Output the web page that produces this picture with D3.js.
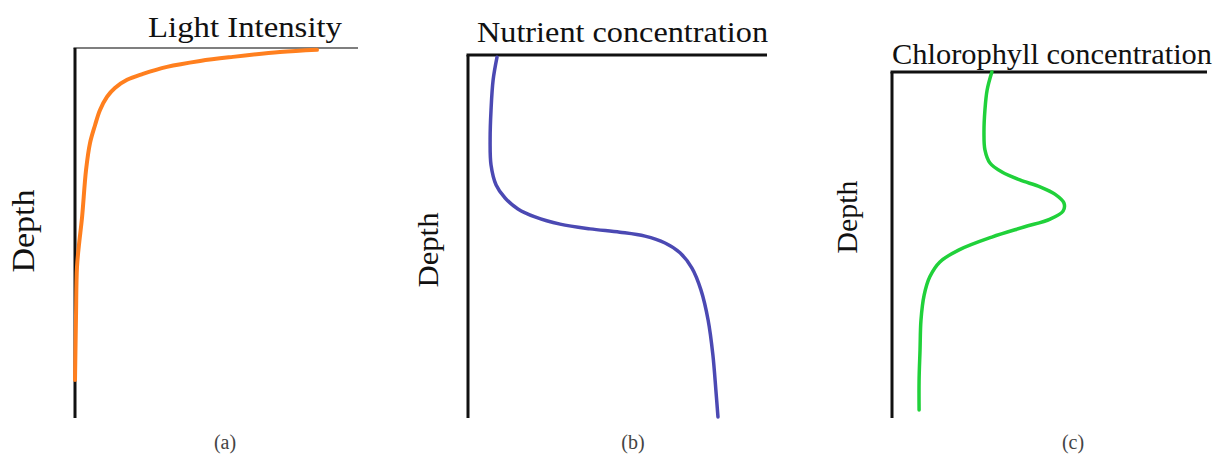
<!DOCTYPE html>
<html>
<head>
<meta charset="utf-8">
<script src="https://cdn.jsdelivr.net/npm/d3@7"></script>
<style>
  html, body { margin: 0; padding: 0; background: #fff; }
  svg { display: block; }
  text { font-family: "Liberation Serif", "Times New Roman", Times, serif; fill: #111; }
</style>
</head>
<body>
<svg id="chart" width="1214" height="455"></svg>
<script>
// ---------- data (value 0-100 along top axis, depth 0-100 down the vertical axis) ----------
const titles = ["Light Intensity", "Nutrient concentration", "Chlorophyll concentration"];
const panelLabels = ["(a)", "(b)", "(c)"];
const yLabel = "Depth";

const lightValue = [85.5, 72.4, 55.8, 44.2, 32.5, 24.0, 18.4, 14.1, 11.3, 8.8, 7.1, 5.3, 3.9, 2.5, 1.4, 0.7, 0.35, 0];
const lightDepth = [0.5, 1.1, 2.4, 3.5, 5.1, 7.0, 8.6, 10.8, 13.2, 16.8, 20.8, 25.7, 33.0, 45.7, 53.2, 59.2, 72.7, 89.7];

const nutrientValue = [9.7, 8.4, 7.7, 7.4, 7.7, 9.4, 12.4, 16.7, 22.4, 30.8, 40.8, 50.8, 59.2, 65.9, 70.9, 74.9, 77.9, 80.3, 81.9, 82.9, 83.6];
const nutrientDepth = [0.6, 6.9, 15.2, 23.4, 30.3, 35.8, 39.4, 42.4, 44.6, 46.6, 47.9, 48.8, 49.9, 51.8, 54.5, 58.7, 64.7, 73.0, 82.6, 92.3, 99.7];

const chloroValue = [31.7, 30.2, 29.5, 29.2, 29.5, 31.1, 34.9, 40.6, 47.0, 51.7, 54.6, 54.3, 50.2, 41.9, 31.7, 21.3, 15.2, 12.0, 10.2, 9.2, 8.9, 8.6, 8.6];
const chloroDepth = [0, 5.2, 11.0, 17.6, 22.5, 26.3, 28.9, 31.2, 33.2, 35.3, 37.9, 40.2, 42.5, 44.8, 47.7, 51.4, 54.9, 59.2, 64.5, 71.7, 80.3, 89.0, 97.7];

// ---------- layout ----------
const panels = [
  { x0: 75,  x1: 358,  y0: 48, y1: 418, color: "#ff7f1e", width: 4,
    vals: lightValue, deps: lightDepth, topW: 1.6, topC: "#555", leftW: 3,
    title: { x: 148, y: 37, len: 194 }, depth: { x: 34, y: 231, len: 83, fs: 31 },
    lab: { x: 225, y: 449 } },
  { x0: 468, x1: 767,  y0: 55, y1: 418, color: "#4b49b3", width: 3.5,
    vals: nutrientValue, deps: nutrientDepth, topW: 3, topC: "#111", leftW: 3,
    title: { x: 477, y: 42, len: 291 }, depth: { x: 438, y: 250, len: 75, fs: 30 },
    lab: { x: 633, y: 449 } },
  { x0: 892, x1: 1207, y0: 72, y1: 418, color: "#20d13a", width: 3.5,
    vals: chloroValue, deps: chloroDepth, topW: 3, topC: "#111", leftW: 3,
    title: { x: 892, y: 64, len: 320 }, depth: { x: 857, y: 217, len: 73, fs: 30 },
    lab: { x: 1073, y: 449 } }
];

const svg = d3.select("#chart");

panels.forEach((p, i) => {
  const x = d3.scaleLinear().domain([0, 100]).range([p.x0, p.x1]);
  const y = d3.scaleLinear().domain([0, 100]).range([p.y0, p.y1]);
  const g = svg.append("g");

  // top axis line
  g.append("line")
    .attr("x1", x(0) - p.leftW / 2).attr("x2", x(100))
    .attr("y1", y(0)).attr("y2", y(0))
    .attr("stroke", p.topC).attr("stroke-width", p.topW);
  // left axis line
  g.append("line")
    .attr("x1", x(0)).attr("x2", x(0))
    .attr("y1", y(0)).attr("y2", y(100))
    .attr("stroke", "#111").attr("stroke-width", p.leftW);

  // curve
  const pts = p.vals.map((v, k) => [v, p.deps[k]]);
  const line = d3.line()
    .x(d => x(d[0])).y(d => y(d[1]))
    .curve(d3.curveCatmullRom.alpha(0.5));
  g.append("path")
    .attr("d", line(pts))
    .attr("fill", "none")
    .attr("stroke", p.color)
    .attr("stroke-width", p.width)
    .attr("stroke-linecap", "round")
    .attr("stroke-linejoin", "round");

  // title
  g.append("text")
    .attr("x", p.title.x).attr("y", p.title.y)
    .attr("font-size", 30)
    .attr("textLength", p.title.len)
    .attr("lengthAdjust", "spacingAndGlyphs")
    .text(titles[i]);

  // depth label
  g.append("text")
    .attr("transform", `translate(${p.depth.x},${p.depth.y}) rotate(-90)`)
    .attr("text-anchor", "middle")
    .attr("font-size", p.depth.fs)
    .attr("textLength", p.depth.len)
    .attr("lengthAdjust", "spacingAndGlyphs")
    .text(yLabel);

  // panel label
  g.append("text")
    .attr("x", p.lab.x).attr("y", p.lab.y)
    .attr("text-anchor", "middle")
    .attr("font-size", 20)
    .style("fill", "#444")
    .text(panelLabels[i]);
});
</script>
</body>
</html>
